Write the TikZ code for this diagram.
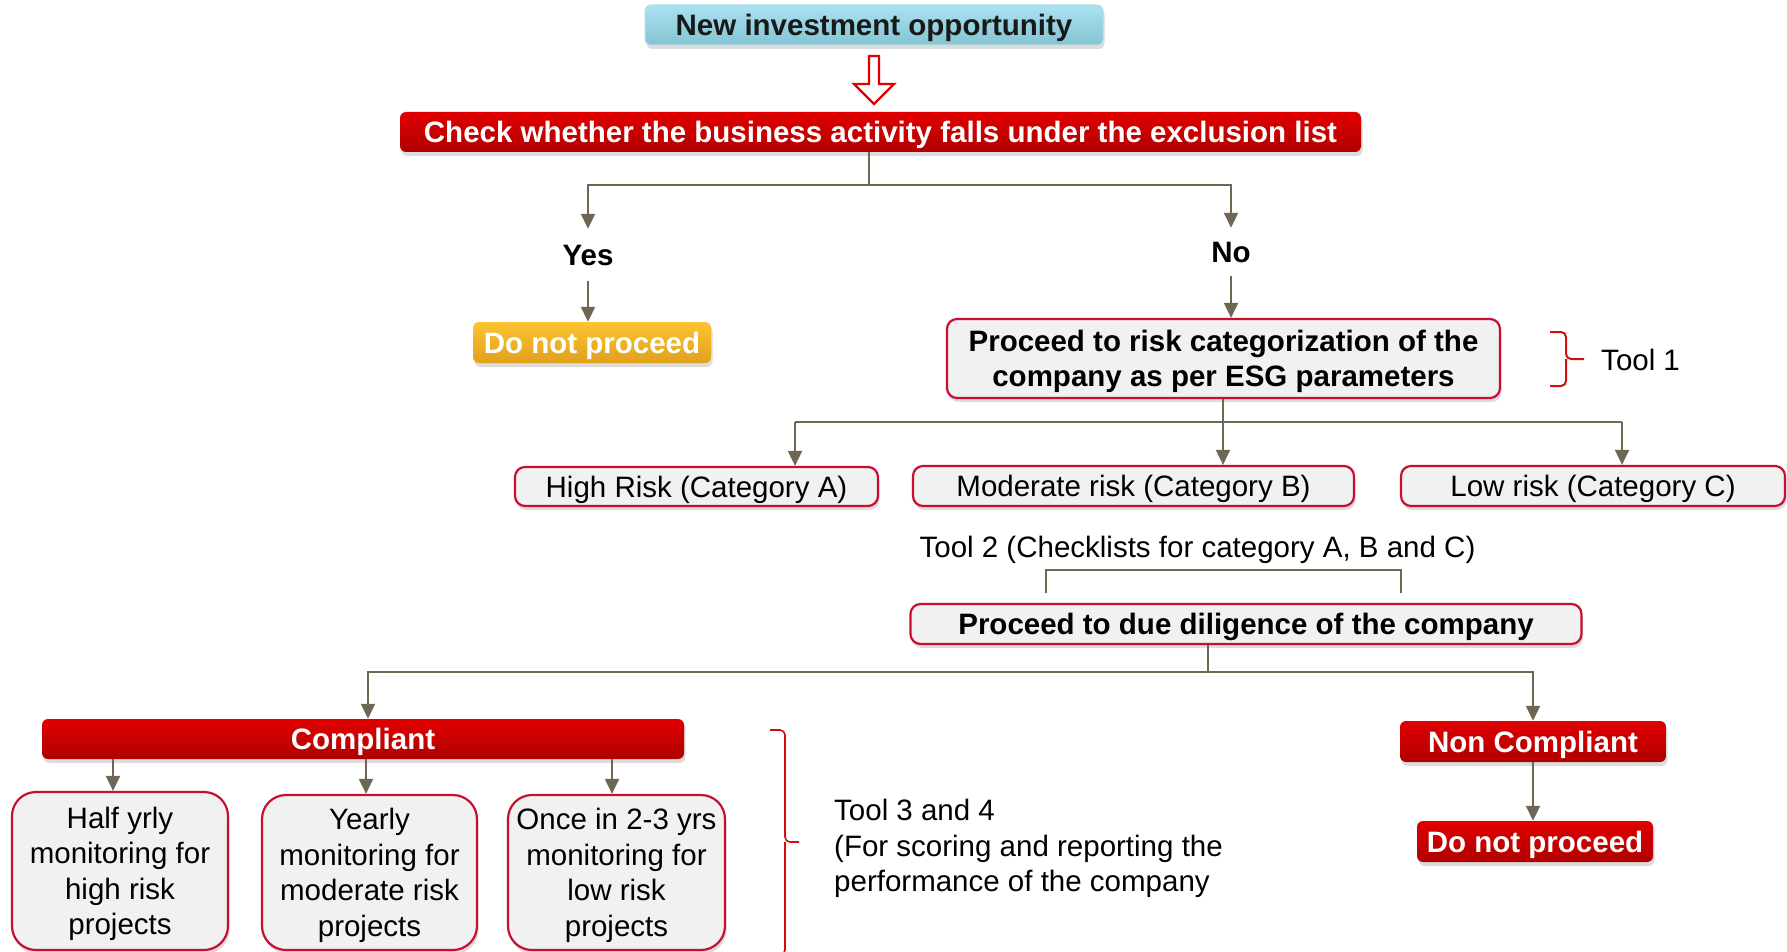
\documentclass[tikz,border=0pt]{standalone}
\usepackage{fontspec}
\setmainfont{Liberation Sans}
\usetikzlibrary{shadows,arrows.meta,calc}
\definecolor{conncol}{HTML}{6E6753}
\definecolor{redtop}{HTML}{E00000}
\definecolor{redbot}{HTML}{B00000}
\definecolor{boxred}{HTML}{C8102E}
\definecolor{greyfill}{HTML}{F1F1F1}
\definecolor{bluetop}{HTML}{AAE2F0}
\definecolor{bluebot}{HTML}{84C3D3}
\definecolor{bluebord}{HTML}{B5DDE6}
\definecolor{yeltop}{HTML}{FDC430}
\definecolor{yelbot}{HTML}{E0A01E}
\definecolor{bracered}{HTML}{D01010}
\newcommand{\fs}{\fontsize{29.5}{35.5}\selectfont}
\tikzset{
  base/.style={inner sep=0pt, align=center, font=\fs, text depth=0pt,
    drop shadow={opacity=0.28, shadow xshift=1.5pt, shadow yshift=-4pt}},
  bluebox/.style={base, rounded corners=6pt, top color=bluetop, bottom color=bluebot,
    draw=bluebord, line width=1pt, font=\fs\bfseries, text=black!90},
  redbox/.style={base, rounded corners=6pt, top color=redtop, bottom color=redbot,
    text=white, font=\fs\bfseries},
  yelbox/.style={base, rounded corners=6pt, top color=yeltop, bottom color=yelbot,
    text=white, font=\fs\bfseries},
  greybox/.style={base, rounded corners=10pt, fill=greyfill, draw=boxred, line width=2.2pt},
  boldgrey/.style={greybox, font=\fs\bfseries},
  monbox/.style={greybox, rounded corners=24pt},
  cline/.style={draw=conncol, line width=2pt},
  carrow/.style={cline, -{Triangle[width=14pt,length=15pt]}},
  lbl/.style={inner sep=0pt, font=\fs},
  bracestyle/.style={draw=bracered, line width=2pt, rounded corners=5pt},
}
\begin{document}
\begin{tikzpicture}[x=1pt,y=-1pt]
\useasboundingbox (0,0) rectangle (1787,952);

% top nodes
\node[bluebox, minimum width=458pt, minimum height=40pt] (new) at (874,25) {New investment opportunity};
\node[redbox, minimum width=961pt, minimum height=40pt] (check) at (880.5,132) {Check whether the business activity falls under the exclusion list};

% hollow arrow
\draw[draw=redtop, line width=2.4pt, fill=white, line join=miter]
  (869,56) -- (879,56) -- (879,84) -- (894,84) -- (874,104) -- (854,84) -- (869,84) -- cycle;

% yes / no
\node[lbl, font=\fs\bfseries, minimum height=52pt] (yes) at (588,255) {Yes};
\node[lbl, font=\fs\bfseries, minimum height=48pt] (no) at (1231,252) {No};

\coordinate (j1) at (869,185);
\draw[cline] (check.south -| j1) -- (j1);
\draw[carrow] (j1) -| (yes.north);
\draw[carrow] (j1) -| (no.north);

\node[yelbox, minimum width=238pt, minimum height=41pt] (dnp1) at (592,342.5) {Do not proceed};
\node[boldgrey, minimum width=553pt, minimum height=79pt] (risk) at (1223.5,358.5) {Proceed to risk categorization of the\\company as per ESG parameters};

\draw[carrow] (yes.south) -- (yes.south |- dnp1.north);
\draw[carrow] (no.south) -- (no.south |- risk.north);

% tool 1 brace
\draw[bracestyle] (1550,332) -- (1566,332) -- (1566,359) -- (1584,359);
\draw[bracestyle] (1550,386) -- (1566,386) -- (1566,359);
\node[lbl, anchor=west] (t1) at (1601,360) {Tool 1};

% categories
\node[greybox, minimum width=363pt, minimum height=39pt] (high) at (696.5,486.5) {High Risk (Category A)};
\node[greybox, minimum width=441pt, minimum height=40pt] (mod) at (1133.5,486) {Moderate risk (Category B)};
\node[greybox, minimum width=384pt, minimum height=40pt] (low) at (1593,486) {Low risk (Category C)};

\coordinate (j2) at (1223,422);
\coordinate (ha) at (795,0);
\coordinate (la) at (1622,0);
\draw[cline] (risk.south -| j2) -- (j2);
\draw[cline] (ha |- j2) -- (la |- j2);
\draw[carrow] (ha |- j2) -- (ha |- high.north);
\draw[carrow] (j2) -- (j2 |- mod.north);
\draw[carrow] (la |- j2) -- (la |- low.north);

% tool 2
\node[lbl] (t2) at (1197.5,550) {Tool 2 (Checklists for category A, B and C)};
\draw[cline, line width=1.5pt] (1046,593) -- (1046,570) -- (1401,570) -- (1401,593);

\node[boldgrey, minimum width=671pt, minimum height=40pt] (due) at (1246,624) {Proceed to due diligence of the company};

% compliant / non compliant
\node[redbox, minimum width=642pt, minimum height=40pt] (compl) at (363,739) {Compliant};
\node[redbox, minimum width=266pt, minimum height=41pt] (nonc) at (1533,741.5) {Non Compliant};
\node[redbox, minimum width=236pt, minimum height=41pt] (dnp2) at (1535,841.5) {Do not proceed};

\coordinate (j3) at (1208,672);
\coordinate (ca) at (368,0);
\draw[cline] (j3 |- due.south) -- (j3);
\draw[carrow] (j3) -| (ca |- compl.north);
\draw[carrow] (j3) -| (nonc.north);
\draw[carrow] (nonc.south) -- (nonc.south |- dnp2.north);

% monitoring boxes
\node[monbox, minimum width=216pt, minimum height=158pt] (mon1) at (120,871) {Half yrly\\monitoring for\\high risk\\projects};
\node[monbox, minimum width=215pt, minimum height=155pt] (mon2) at (369.5,872.5) {Yearly\\monitoring for\\moderate risk\\projects};
\node[monbox, minimum width=217pt, minimum height=155pt] (mon3) at (616.5,872.5) {Once in 2-3 yrs\\monitoring for\\low risk\\projects};

\coordinate (m1a) at (113,0);
\coordinate (m2a) at (366,0);
\coordinate (m3a) at (612,0);
\draw[carrow] (m1a |- compl.south) -- (m1a |- mon1.north);
\draw[carrow] (m2a |- compl.south) -- (m2a |- mon2.north);
\draw[carrow] (m3a |- compl.south) -- (m3a |- mon3.north);

% tool 3 and 4 brace
\draw[bracestyle, line width=1.6pt] (770,730) -- (785,730) -- (785,842) -- (799,842);
\draw[bracestyle, line width=1.6pt] (770,955) -- (785,955) -- (785,842);
\node[lbl, anchor=west, align=left] (t34) at (834,848.5) {Tool 3 and 4\\(For scoring and reporting the\\performance of the company};
\end{tikzpicture}
\end{document}
